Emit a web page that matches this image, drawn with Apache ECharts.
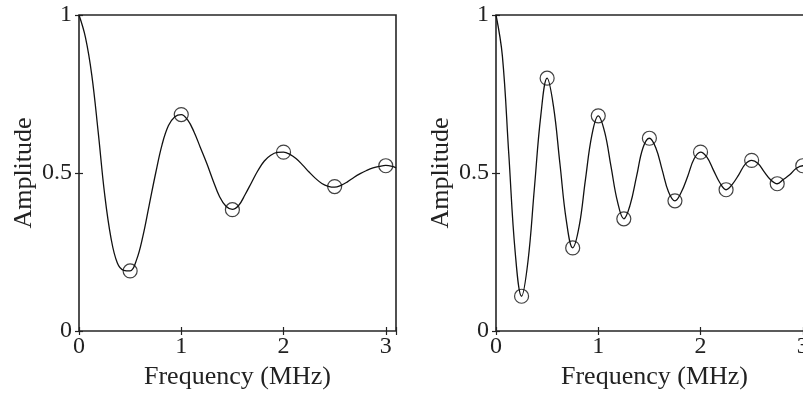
<!DOCTYPE html>
<html>
<head>
<meta charset="utf-8">
<script src="https://cdn.jsdelivr.net/npm/echarts@6/dist/echarts.min.js"></script>
<style>html,body{margin:0;padding:0;background:#fff}#c{width:803px;height:401px}</style>
</head>
<body>
<div id="c"></div>
<script>
// ---- data ----
const curveFreq = [0,0.0625,0.125,0.1875,0.25,0.3125,0.375,0.4375,0.5,0.5625,0.625,0.6875,0.75,0.8125,0.875,0.9375,
  1.0,1.0625,1.125,1.1875,1.25,1.3125,1.375,1.4375,1.5,1.5625,1.625,1.6875,1.75,1.8125,1.875,1.9375,
  2.0,2.0625,2.125,2.1875,2.25,2.3125,2.375,2.4375,2.5,2.5625,2.625,2.6875,2.75,2.8125,2.875,2.9375,
  3.0,3.0625,3.1];
const leftAmp = [1.0,0.93,0.81,0.63,0.435,0.295,0.215,0.192,0.19,0.225,0.30,0.40,0.50,0.59,0.65,0.678,
  0.685,0.668,0.63,0.58,0.53,0.475,0.425,0.395,0.385,0.398,0.432,0.47,0.508,0.538,0.556,0.565,
  0.566,0.559,0.545,0.525,0.503,0.483,0.467,0.458,0.455,0.461,0.472,0.486,0.498,0.508,0.516,0.521,
  0.524,0.521,0.516];
const rightAmp = [1.0,0.87,0.56,0.25,0.11,0.22,0.45,0.68,0.80,0.71,0.53,0.35,0.263,0.33,0.48,0.62,
  0.681,0.63,0.52,0.41,0.355,0.40,0.49,0.58,0.61,0.58,0.51,0.44,0.412,0.44,0.49,0.545,
  0.566,0.55,0.51,0.47,0.447,0.465,0.495,0.528,0.54,0.53,0.503,0.478,0.466,0.48,0.495,0.515,
  0.523,0.515,0.505];
const leftMarkFreq = [0.5,1.0,1.5,2.0,2.5,3.0];
const leftMarkAmp = [0.19,0.685,0.384,0.566,0.457,0.523];
const rightMarkFreq = [0.25,0.5,0.75,1.0,1.25,1.5,1.75,2.0,2.25,2.5,2.75,3.0];
const rightMarkAmp = [0.11,0.80,0.263,0.681,0.355,0.61,0.412,0.566,0.447,0.54,0.466,0.523];
const xTicks = [0,1,2,3];
const yTicks = [0,0.5,1];
const xTitle = 'Frequency (MHz)';
const yTitle = 'Amplitude';

// ---- chart ----
const FONT = 'Liberation Serif';
const TXT = '#222';
function zip(a,b){return a.map((v,i)=>[v,b[i]]);}
function xAx(gi, pos){
  return {type:'value', gridIndex:gi, position:pos, min:0, max:3.1, interval:1,
    axisLine:{show:false}, splitLine:{show:false},
    axisTick:{show:true, inside:true, length:4, lineStyle:{color:'#222', width:1.2}},
    axisLabel:{show:pos==='bottom', margin:4, fontFamily:FONT, fontSize:24, color:TXT,
      hideOverlap:false, formatter:v=>xTicks.indexOf(v)>=0?String(v):''},
    name: pos==='bottom'?xTitle:'', nameLocation:'middle', nameGap:31,
    nameTextStyle:{fontFamily:FONT, fontSize:26, color:TXT}};
}
function yAx(gi, pos){
  return {type:'value', gridIndex:gi, position:pos, min:0, max:1, interval:0.5,
    axisLine:{show:false}, splitLine:{show:false},
    axisTick:{show:true, inside:true, length:4, lineStyle:{color:'#222', width:1.2}},
    axisLabel:{show:pos==='left', margin:7, fontFamily:FONT, fontSize:24, color:TXT,
      formatter:v=>yTicks.indexOf(v)>=0?String(v):''},
    name: pos==='left'?yTitle:'', nameLocation:'middle', nameGap:42,
    nameTextStyle:{fontFamily:FONT, fontSize:26, color:TXT}};
}
const gridStyle = {show:true, borderColor:'#262626', borderWidth:1.6, backgroundColor:'transparent',
  containLabel:false, outerBoundsMode:'none'};
const option = {
  animation:false,
  backgroundColor:'#fff',
  grid:[
    Object.assign({left:79, top:15, width:317, height:316}, gridStyle),
    Object.assign({left:496, top:15, width:317, height:316}, gridStyle)
  ],
  xAxis:[xAx(0,'bottom'), xAx(0,'top'), xAx(1,'bottom'), xAx(1,'top')],
  yAxis:[yAx(0,'left'), yAx(0,'right'), yAx(1,'left'), yAx(1,'right')],
  series:[
    {type:'line', xAxisIndex:0, yAxisIndex:0, data:zip(curveFreq,leftAmp), smooth:0.4, showSymbol:false,
      lineStyle:{color:'#111', width:1.3}},
    {type:'scatter', xAxisIndex:0, yAxisIndex:0, data:zip(leftMarkFreq,leftMarkAmp), symbol:'circle', symbolSize:14,
      itemStyle:{color:'rgba(0,0,0,0)', borderColor:'#111', borderWidth:1.2}},
    {type:'line', xAxisIndex:2, yAxisIndex:2, data:zip(curveFreq,rightAmp), smooth:0.4, showSymbol:false,
      lineStyle:{color:'#111', width:1.3}},
    {type:'scatter', xAxisIndex:2, yAxisIndex:2, data:zip(rightMarkFreq,rightMarkAmp), symbol:'circle', symbolSize:14,
      itemStyle:{color:'rgba(0,0,0,0)', borderColor:'#111', borderWidth:1.2}}
  ]
};
const chart = echarts.init(document.getElementById('c'), null, {renderer:'canvas'});
chart.setOption(option);
</script>
</body>
</html>
